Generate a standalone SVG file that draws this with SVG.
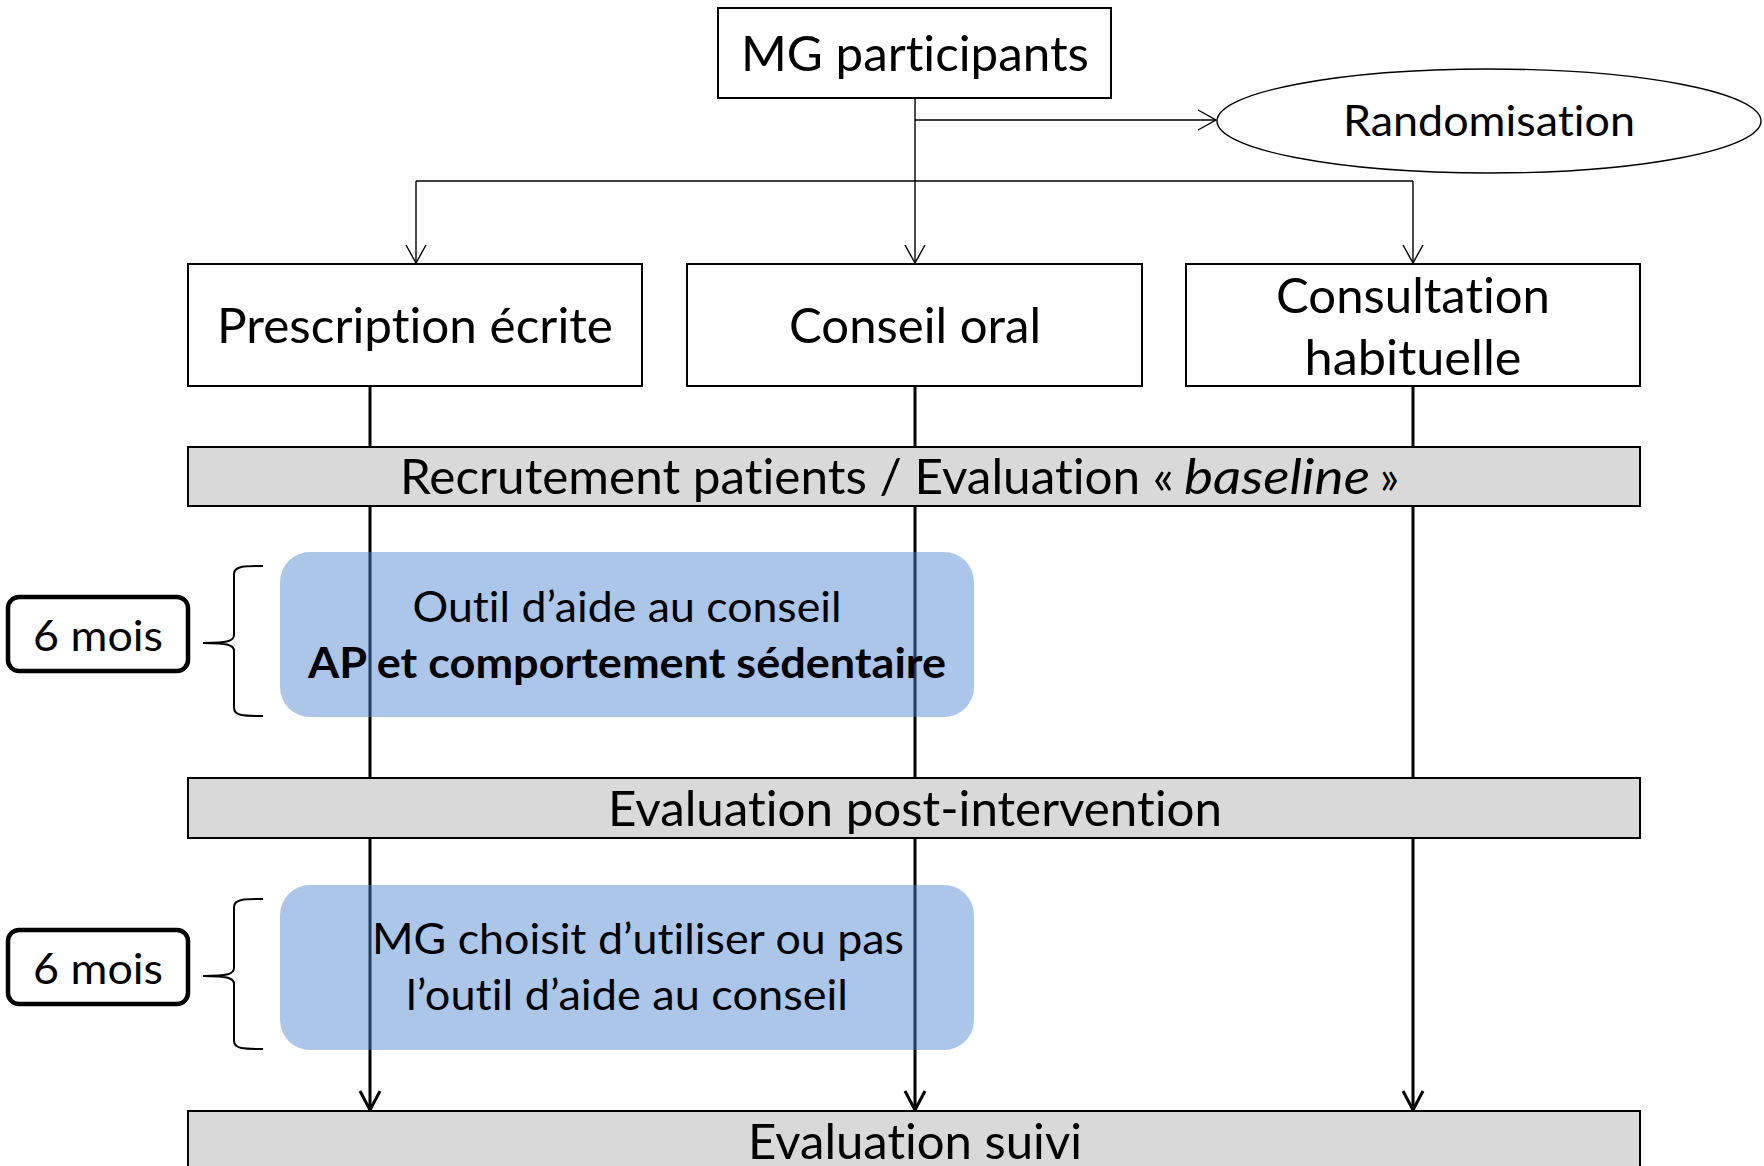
<svg xmlns="http://www.w3.org/2000/svg" width="1764" height="1166" viewBox="0 0 1764 1166">
  <style>
    .lbl { font-family: Lato, "Liberation Sans", sans-serif; fill: #000; font-variant-ligatures: none; }
    .big { font-size: 47.7px; }
    .mid { font-size: 42.7px; }
    .box { fill: #fff; stroke: #000; stroke-width: 2; }
    .bar { fill: #d9d9d9; stroke: #000; stroke-width: 2; }
    .phase { fill: #4a82cf; fill-opacity: 0.46; }
    .thin { fill: none; stroke: #000; stroke-width: 1.4; }
    .thick { fill: none; stroke: #000; stroke-width: 3; }
    .brace { fill: none; stroke: #000; stroke-width: 2; }
    .dur { fill: #fff; stroke: #000; stroke-width: 4.5; }
  </style>
  <defs>
    <marker id="openThin" markerUnits="userSpaceOnUse" markerWidth="40" markerHeight="40" refX="0" refY="0" orient="auto" overflow="visible">
      <path d="M-18,-10 L0,0 L-18,10" fill="none" stroke="#000" stroke-width="1.4"/>
    </marker>
    <marker id="openThick" markerUnits="userSpaceOnUse" markerWidth="40" markerHeight="40" refX="0" refY="0" orient="auto" overflow="visible">
      <path d="M-19,-10 L0,0 L-19,10" fill="none" stroke="#000" stroke-width="3"/>
    </marker>
  </defs>

  <rect width="1764" height="1166" fill="#fff"/>

  <g id="connectors">
    <!-- randomisation fan-out -->
    <line class="thin" x1="915" y1="98" x2="915" y2="263" marker-end="url(#openThin)"/>
    <line class="thin" x1="915" y1="120" x2="1216" y2="120" marker-end="url(#openThin)"/>
    <line class="thin" x1="416" y1="181" x2="1413" y2="181"/>
    <line class="thin" x1="416" y1="181" x2="416" y2="263" marker-end="url(#openThin)"/>
    <line class="thin" x1="1413" y1="181" x2="1413" y2="263" marker-end="url(#openThin)"/>
    <!-- arm timelines -->
    <line class="thick" x1="370" y1="386" x2="370" y2="447"/>
    <line class="thick" x1="915" y1="386" x2="915" y2="447"/>
    <line class="thick" x1="1413" y1="386" x2="1413" y2="447"/>
    <line class="thick" x1="370" y1="506" x2="370" y2="778"/>
    <line class="thick" x1="915" y1="506" x2="915" y2="778"/>
    <line class="thick" x1="1413" y1="506" x2="1413" y2="778"/>
    <line class="thick" x1="370" y1="838" x2="370" y2="1110" marker-end="url(#openThick)"/>
    <line class="thick" x1="915" y1="838" x2="915" y2="1110" marker-end="url(#openThick)"/>
    <line class="thick" x1="1413" y1="838" x2="1413" y2="1110" marker-end="url(#openThick)"/>
  </g>

  <g id="mg-participants">
    <rect class="box" x="718" y="8" width="393" height="90"/>
    <text class="lbl big" x="915" y="71" text-anchor="middle" textLength="348" lengthAdjust="spacingAndGlyphs">MG participants</text>
  </g>

  <g id="randomisation">
    <ellipse cx="1489" cy="121" rx="272" ry="52" fill="#fff" stroke="#000" stroke-width="1.4"/>
    <text class="lbl mid" x="1489" y="136" text-anchor="middle" textLength="292" lengthAdjust="spacingAndGlyphs">Randomisation</text>
  </g>

  <g id="arm-prescription">
    <rect class="box" x="188" y="264" width="454" height="122"/>
    <text class="lbl big" x="415" y="343" text-anchor="middle" textLength="396" lengthAdjust="spacingAndGlyphs">Prescription écrite</text>
  </g>

  <g id="arm-conseil">
    <rect class="box" x="687" y="264" width="455" height="122"/>
    <text class="lbl big" x="915" y="343" text-anchor="middle" textLength="252" lengthAdjust="spacingAndGlyphs">Conseil oral</text>
  </g>

  <g id="arm-habituelle">
    <rect class="box" x="1186" y="264" width="454" height="122"/>
    <text class="lbl big" x="1413" y="313" text-anchor="middle" textLength="274" lengthAdjust="spacingAndGlyphs">Consultation</text>
    <text class="lbl big" x="1413" y="375" text-anchor="middle" textLength="217" lengthAdjust="spacingAndGlyphs">habituelle</text>
  </g>

  <g id="eval-baseline">
    <rect class="bar" x="188" y="447" width="1452" height="59"/>
    <text class="lbl big" x="400" y="494" textLength="774" lengthAdjust="spacingAndGlyphs">Recrutement patients / Evaluation «</text>
    <text class="lbl big" x="1184" y="494" font-style="italic" textLength="186" lengthAdjust="spacingAndGlyphs">baseline</text>
    <text class="lbl big" x="1380" y="494" textLength="19" lengthAdjust="spacingAndGlyphs">»</text>
  </g>

  <g id="phase-intervention">
    <rect class="phase" x="280" y="552" width="694" height="165" rx="30" ry="30"/>
    <text class="lbl mid" x="627" y="622" text-anchor="middle" textLength="429" lengthAdjust="spacingAndGlyphs">Outil d’aide au conseil</text>
    <text class="lbl mid" x="627" y="678" text-anchor="middle" font-weight="bold" textLength="638" lengthAdjust="spacingAndGlyphs">AP et comportement sédentaire</text>
  </g>

  <g id="duree-intervention">
    <rect class="dur" x="8" y="597" width="180" height="74" rx="11" ry="11"/>
    <text class="lbl mid" x="98" y="651" text-anchor="middle" textLength="130" lengthAdjust="spacingAndGlyphs">6 mois</text>
    <path class="brace" d="M263,566 C244,566 234,566 234,574 L234,635 C234,641 228,643 203,643 C228,643 234,645 234,651 L234,708 C234,716 244,716 263,716"/>
  </g>

  <g id="eval-post">
    <rect class="bar" x="188" y="778" width="1452" height="60"/>
    <text class="lbl big" x="915" y="826" text-anchor="middle" textLength="614" lengthAdjust="spacingAndGlyphs">Evaluation post-intervention</text>
  </g>

  <g id="phase-libre">
    <rect class="phase" x="280" y="885" width="694" height="165" rx="30" ry="30"/>
    <text class="lbl mid" x="638" y="954" text-anchor="middle" textLength="532" lengthAdjust="spacingAndGlyphs">MG choisit d’utiliser ou pas</text>
    <text class="lbl mid" x="627" y="1010" text-anchor="middle" textLength="442" lengthAdjust="spacingAndGlyphs">l’outil d’aide au conseil</text>
  </g>

  <g id="duree-suivi">
    <rect class="dur" x="8" y="930" width="180" height="74" rx="11" ry="11"/>
    <text class="lbl mid" x="98" y="984" text-anchor="middle" textLength="130" lengthAdjust="spacingAndGlyphs">6 mois</text>
    <path class="brace" d="M263,899 C244,899 234,899 234,907 L234,968 C234,974 228,976 203,976 C228,976 234,978 234,984 L234,1041 C234,1049 244,1049 263,1049"/>
  </g>

  <g id="eval-suivi">
    <rect class="bar" x="188" y="1111" width="1452" height="62"/>
    <text class="lbl big" x="915" y="1159" text-anchor="middle" textLength="334" lengthAdjust="spacingAndGlyphs">Evaluation suivi</text>
  </g>
</svg>
